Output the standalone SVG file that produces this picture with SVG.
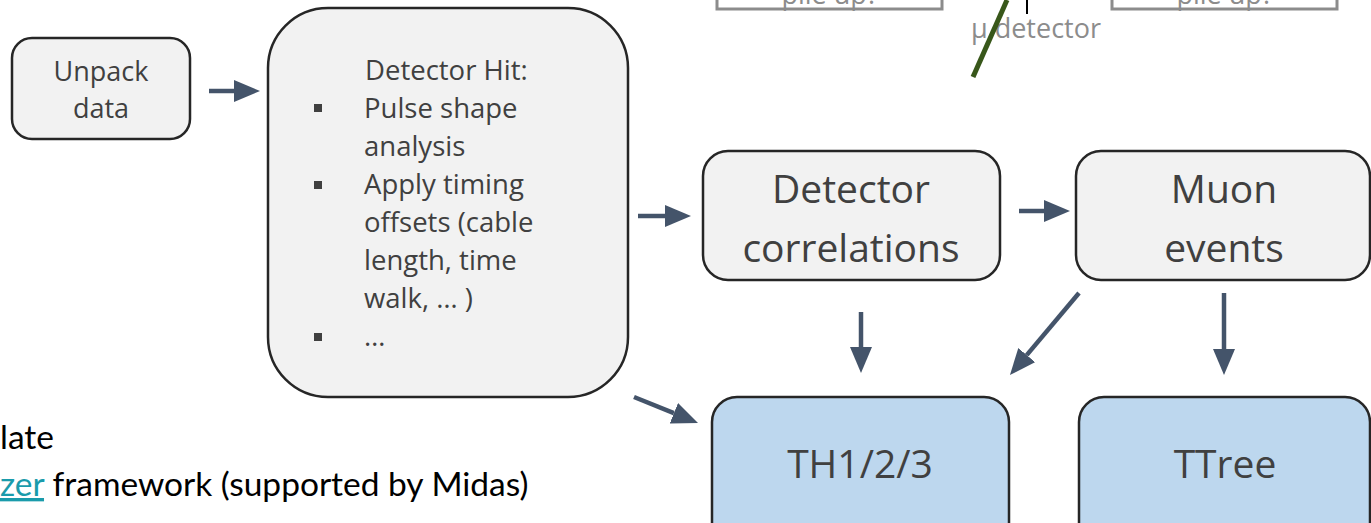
<svg xmlns="http://www.w3.org/2000/svg" width="1371" height="523" viewBox="0 0 1371 523">
<style>
.box{fill:#f2f2f2;stroke:#262626;stroke-width:2.5}
.blue{fill:#bdd7ee;stroke:#262626;stroke-width:2.5}
.t{font-family:"Open Sans","DejaVu Sans",sans-serif;fill:#404040}
.big{font-size:39px;text-anchor:middle}
.mid{font-size:27px;text-anchor:middle}
.list{font-size:27.5px}
.conn line{stroke:#44546a;stroke-width:4.5;fill:none}
.gray{fill:none;stroke:#8c8c8c;stroke-width:3}
.gtext{font-family:"Open Sans","DejaVu Sans",sans-serif;fill:#8c8c8c;font-size:27px;text-anchor:middle}
.body{font-family:"Lato","Liberation Sans",sans-serif;font-size:33.5px;fill:#000}
</style>
<defs>
<marker id="ah" markerUnits="userSpaceOnUse" markerWidth="26" markerHeight="22" viewBox="0 0 26 22" refX="0" refY="11" orient="auto">
<path d="M0,0 L26,11 L0,22 z" fill="#44546a"/>
</marker>
</defs>
<rect width="1371" height="523" fill="#ffffff"/>

<g id="top-fragments">
<rect class="gray" x="717" y="-40" width="225" height="49"/>
<text class="gtext" x="830" y="4">pile up?</text>
<rect class="gray" x="1112" y="-40" width="225" height="49"/>
<text class="gtext" x="1225" y="4">pile up?</text>
<line x1="1027" y1="0" x2="1027" y2="14" stroke="#000" stroke-width="2"/>
<text class="gtext" x="1036" y="38">μ detector</text>
<line x1="1007" y1="0" x2="973" y2="77" stroke="#38571a" stroke-width="5"/>
</g>

<g id="unpack">
<rect class="box" x="12" y="38" width="178" height="101" rx="20"/>
<text class="t mid" x="101" y="81">Unpack</text>
<text class="t mid" x="101" y="118">data</text>
</g>

<g id="hit">
<rect class="box" x="268" y="8" width="360" height="389" rx="60"/>
<g class="t list">
<text x="365" y="80">Detector Hit:</text>
<text x="364" y="118">Pulse shape</text>
<text x="364" y="156">analysis</text>
<text x="364" y="194">Apply timing</text>
<text x="364" y="232">offsets (cable</text>
<text x="364" y="270">length, time</text>
<text x="364" y="308">walk, … )</text>
<text x="364" y="346">…</text>
</g>
<rect x="314" y="104" width="8" height="8" fill="#404040"/>
<rect x="314" y="181" width="8" height="8" fill="#404040"/>
<rect x="314" y="333" width="8" height="8" fill="#404040"/>
</g>

<g id="correlations">
<rect class="box" x="703" y="151" width="297" height="129" rx="25"/>
<text class="t big" x="851" y="203">Detector</text>
<text class="t big" x="851" y="262">correlations</text>
</g>

<g id="muon">
<rect class="box" x="1076" y="151" width="294" height="129" rx="25"/>
<text class="t big" x="1224" y="203">Muon</text>
<text class="t big" x="1224" y="262">events</text>
</g>

<g id="th">
<rect class="blue" x="712" y="397" width="297" height="160" rx="25"/>
<text class="t big" x="860" y="478">TH1/2/3</text>
</g>

<g id="ttree">
<rect class="blue" x="1079" y="397" width="291" height="160" rx="25"/>
<text class="t big" x="1225" y="478">TTree</text>
</g>

<g id="connectors" class="conn">
<line x1="209" y1="91" x2="234" y2="91" marker-end="url(#ah)"/>
<line x1="638" y1="216" x2="665" y2="216" marker-end="url(#ah)"/>
<line x1="1019" y1="211" x2="1044" y2="211" marker-end="url(#ah)"/>
<line x1="861" y1="312" x2="861" y2="347" marker-end="url(#ah)"/>
<line x1="1224" y1="293" x2="1224" y2="349" marker-end="url(#ah)"/>
<line x1="1079" y1="293" x2="1026.7" y2="355.1" marker-end="url(#ah)"/>
<line x1="634" y1="397" x2="673.9" y2="413.2" marker-end="url(#ah)"/>
</g>

<g id="slide-text">
<text class="body" x="0" y="449">late</text>
<text class="body" x="0" y="496"><tspan fill="#1a9bab" text-decoration="underline">zer</tspan> framework (supported by Midas)</text>
</g>
</svg>
